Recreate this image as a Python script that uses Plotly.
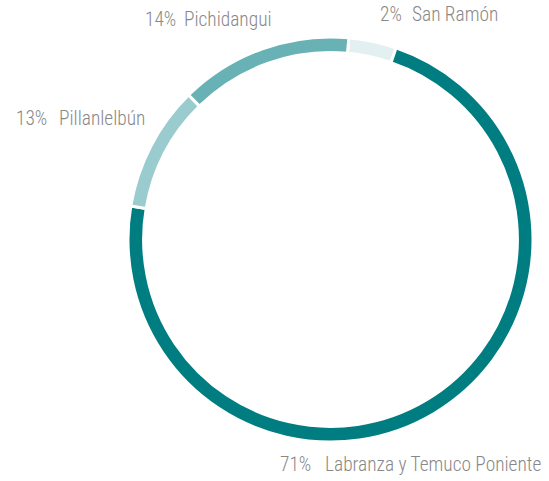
import plotly.graph_objects as go

# Data
names = ["San Ramón", "Labranza y Temuco Poniente", "Pillanlelbún", "Pichidangui"]
shown_pct = ["2%", "71%", "13%", "14%"]
# slice sizes as drawn in the reference ring (measured arc angles -> share)
slice_values = [3.8, 72.4, 10.0, 13.8]
colors = ["#e3f0f2", "#007d80", "#9acbce", "#68b2b5"]

W, H = 549, 481
ML, MR, MT, MB = 128, 16, 37, 39
PW, PH = W - ML - MR, H - MT - MB

fig = go.Figure(go.Pie(
    labels=names,
    values=slice_values,
    sort=False,
    direction="clockwise",
    rotation=5.2,
    hole=0.923,
    textinfo="none",
    hoverinfo="label",
    marker=dict(colors=colors, line=dict(color="white", width=3)),
    showlegend=False,
))

# label placement in pixels: (pct right x, name left x, text middle y)
label_pos = {
    "San Ramón": (401.7, 411.5, 14.5),
    "Labranza y Temuco Poniente": (310.7, 325, 464.7),
    "Pillanlelbún": (46.7, 59, 118.7),
    "Pichidangui": (176, 184, 20),
}
font = dict(family="Roboto Condensed, Roboto, sans-serif", size=19.4, color="#888888", weight=300)
for n, p in zip(names, shown_pct):
    xp, xn, py = label_pos[n]
    yy = (H - MB - py) / PH
    fig.add_annotation(x=(xp + 2 - ML) / PW, y=yy, xref="paper", yref="paper",
                       text=p, showarrow=False, xanchor="right", yanchor="middle", font=font)
    fig.add_annotation(x=(xn - 2 - ML) / PW, y=yy, xref="paper", yref="paper",
                       text=n, showarrow=False, xanchor="left", yanchor="middle", font=font)

fig.update_layout(
    width=W, height=H,
    margin=dict(l=ML, r=MR, t=MT, b=MB),
    paper_bgcolor="white", plot_bgcolor="white",
)
fig.write_html("out.html", config={"displayModeBar": False},
               post_script="document.body.style.margin='0px';")
